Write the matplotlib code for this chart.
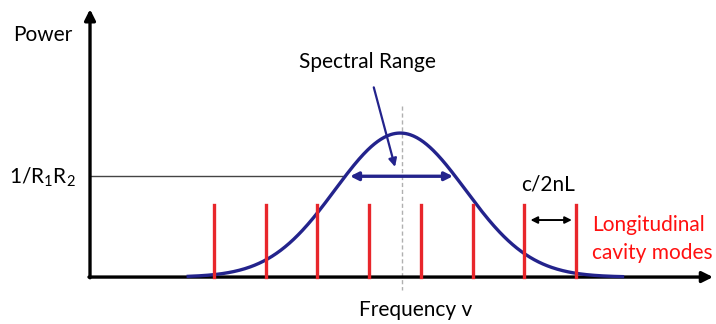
import numpy as np
import matplotlib.pyplot as plt

# cavity modes (frequency units = one mode spacing) and gain profile
mode_freqs = [2.4, 3.4, 4.4, 5.4, 6.4, 7.4, 8.4, 9.4]
mode_height = 0.5
gain_center = 6.0
gain_sigma = 1.26
gain_peak = 1.0
threshold = 0.70          # 1/R1R2 level
gain_span = (1.9, 10.3)

navy = '#23238c'
red = '#e8262b'
fs = 15

plt.rcParams['font.family'] = ['Lato', 'DejaVu Sans']
plt.rcParams['mathtext.fontset'] = 'custom'
plt.rcParams['mathtext.rm'] = 'Lato'

fig = plt.figure(figsize=(7.16, 3.24), dpi=100)
ax = fig.add_axes([0, 0, 1, 1])
ax.set_xlim(-1.741, 12.108)
ax.set_ylim(-0.326, 1.924)
ax.axis('off')

# axes with arrow heads
ax.annotate('', xy=(0, 1.86), xytext=(0, -0.005),
            arrowprops=dict(arrowstyle='-|>', lw=2.4, color='black',
                            mutation_scale=16, shrinkA=0, shrinkB=0))
ax.annotate('', xy=(12.05, 0), xytext=(-0.02, 0),
            arrowprops=dict(arrowstyle='-|>', lw=2.4, color='black',
                            mutation_scale=16, shrinkA=0, shrinkB=0))

# centre marker
ax.plot([gain_center + 0.04] * 2, [1.19, -0.09], color='#b0b0b0',
        lw=1.0, ls=(0, (3, 2)), zorder=1)

# gain curve
f = np.linspace(gain_span[0], gain_span[1], 400)
g = gain_peak * np.exp(-(f - gain_center) ** 2 / (2 * gain_sigma ** 2))
ax.plot(f, g, color=navy, lw=2.4, zorder=3)

# threshold line up to where it meets the curve
cross = gain_center - gain_sigma * np.sqrt(2 * np.log(gain_peak / threshold))
ax.plot([0, cross], [threshold, threshold], color='#444444', lw=1.0, zorder=2)

# spectral range arrow across the curve
ax.annotate('', xy=(7.02, threshold), xytext=(5.03, threshold),
            arrowprops=dict(arrowstyle='<|-|>', lw=2.4, color=navy,
                            mutation_scale=12, shrinkA=0, shrinkB=0))
ax.annotate('Spectral Range', xy=(5.90, 0.765), xytext=(5.36, 1.49),
            ha='center', va='center', fontsize=fs,
            arrowprops=dict(arrowstyle='-|>', lw=1.6, color=navy,
                            mutation_scale=12, shrinkA=9, shrinkB=0))

# longitudinal modes
for m in mode_freqs:
    ax.plot([m, m], [0, mode_height], color=red, lw=2.4, zorder=4)

# mode spacing
ax.annotate('', xy=(mode_freqs[7] - 0.08, 0.396),
            xytext=(mode_freqs[6] + 0.12, 0.396),
            arrowprops=dict(arrowstyle='<|-|>', lw=1.4, color='black',
                            mutation_scale=10, shrinkA=0, shrinkB=0))
ax.text(8.86, 0.646, 'c/2nL', ha='center', va='center', fontsize=fs)
ax.text(9.71, 0.36, 'Longitudinal', ha='left', va='center',
        fontsize=fs, color='#ff1010')
ax.text(9.71, 0.165, 'cavity modes', ha='left', va='center',
        fontsize=fs, color='#ff1010')

# axis labels
ax.text(-0.91, 1.68, 'Power', ha='center', va='center', fontsize=fs)
ax.text(-0.27, 0.69, r'1/R$_1$R$_2$', ha='right', va='center', fontsize=fs)
ax.text(6.29, -0.229, 'Frequency v', ha='center', va='center', fontsize=fs)

fig.savefig('out.png', dpi=100)
